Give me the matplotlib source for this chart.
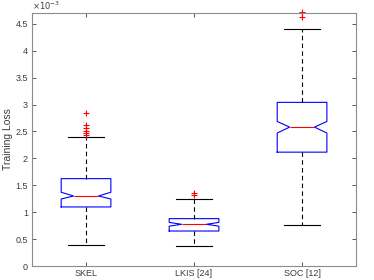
import numpy as np
import matplotlib.pyplot as plt

plt.rcParams['font.family'] = ['Liberation Sans', 'DejaVu Sans']

labels = ['SKEL', 'LKIS [24]', 'SOC [12]']
# box statistics (x1e-3)
med = [1.30, 0.775, 2.58]
q1 = [1.097, 0.65, 2.115]
q3 = [1.623, 0.88, 3.04]
whislo = [0.396, 0.378, 0.756]
whishi = [2.40, 1.24, 4.41]
cilo = [1.245, 0.74, 2.47]
cihi = [1.37, 0.81, 2.685]
fliers = [[2.85, 2.616, 2.566, 2.516, 2.47, 2.44],
          [1.363, 1.326],
          [4.63, 4.72]]

stats = []
for i in range(len(labels)):
    stats.append(dict(med=med[i] * 1e-3, q1=q1[i] * 1e-3, q3=q3[i] * 1e-3,
                      whislo=whislo[i] * 1e-3, whishi=whishi[i] * 1e-3,
                      cilo=cilo[i] * 1e-3, cihi=cihi[i] * 1e-3,
                      fliers=np.array(fliers[i]) * 1e-3, label=labels[i]))

fig = plt.figure(figsize=(3.74, 2.8), dpi=100)
ax = fig.add_axes([0.0856, 0.05, 0.952 - 0.0856, 0.9536 - 0.05])

gray = '#3c3c3c'
bp = ax.bxp(stats, positions=[1, 2, 3], widths=0.46, shownotches=True,
            boxprops=dict(color='blue', linewidth=0.8),
            medianprops=dict(color='red', linewidth=0.8),
            whiskerprops=dict(color='black', linewidth=0.8, linestyle=(0, (4, 3))),
            capprops=dict(color='black', linewidth=0.8),
            flierprops=dict(marker='+', markeredgecolor='red', markersize=5,
                            linestyle='none', markeredgewidth=0.8),
            capwidths=0.34)
for f in bp['fliers']:
    f.set_clip_on(False)

ax.set_xlim(0.5, 3.5)
ax.set_ylim(0, 4.7e-3)
ax.set_yticks(np.arange(0, 4.51e-3, 0.5e-3))
ax.set_yticklabels(['0', '0.5', '1', '1.5', '2', '2.5', '3', '3.5', '4', '4.5'])
ax.text(0.0, 1.005, r'$\times10^{-3}$', transform=ax.transAxes, fontsize=6,
        color=gray, va='bottom', ha='left')
ax.set_ylabel('Training Loss', fontsize=7.5, color=gray, labelpad=2)

for s in ax.spines.values():
    s.set_color('#8c8c8c')
    s.set_linewidth(0.8)
ax.tick_params(direction='in', top=True, right=True, labelsize=6.5,
               colors=gray, length=3, width=0.6, pad=3)
ax.tick_params(axis='x', pad=2.5)

fig.savefig('out.png', dpi=100)
